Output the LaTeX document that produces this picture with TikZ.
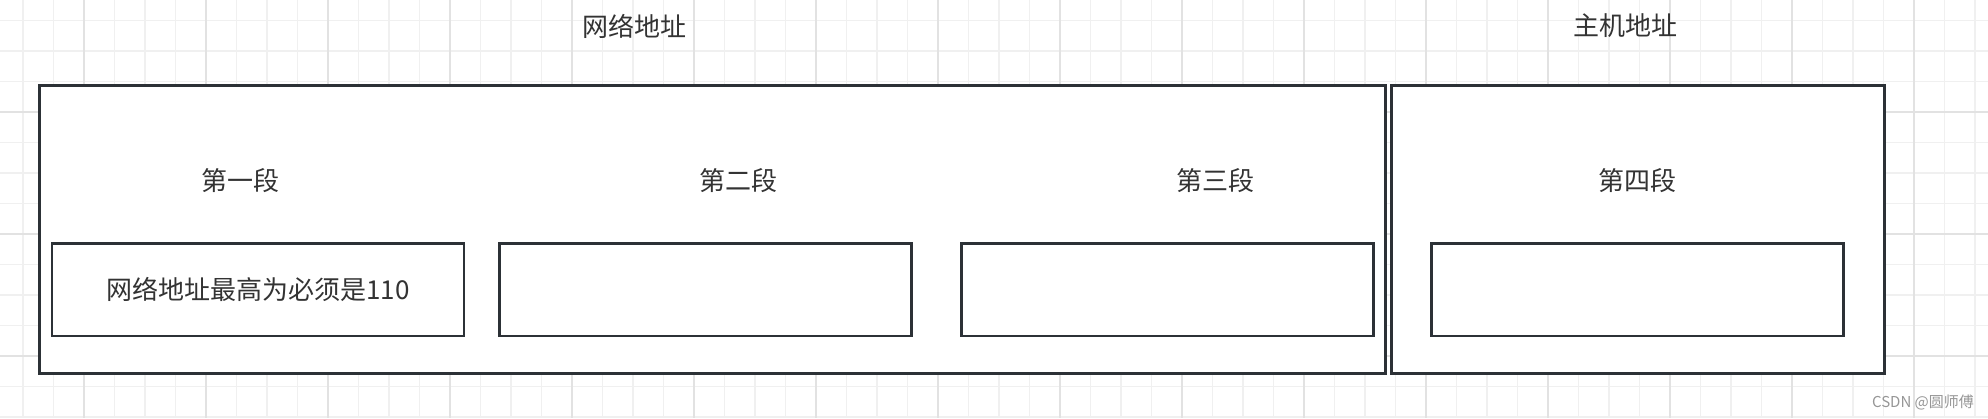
\documentclass[tikz,border=0pt]{standalone}
\usepackage{fontspec}
\setmainfont{Noto Sans CJK SC}
\usepackage{tikz}
\usetikzlibrary{positioning}

\definecolor{boxline}{RGB}{44,49,54}
\definecolor{txtgray}{RGB}{51,51,51}
\definecolor{gridminor}{RGB}{240,240,240}
\definecolor{gridmajor}{RGB}{226,226,226}
\definecolor{markgray}{RGB}{150,150,150}

\begin{document}
\begin{tikzpicture}[
    x=1pt, y=-1pt,
    outerbox/.style={rectangle, draw=boxline, fill=white, line width=3pt, minimum height=288.5pt, inner sep=0pt},
    segbox/.style={rectangle, draw=boxline, fill=white, line width=2.7pt, minimum width=412pt, minimum height=92.5pt, inner sep=0pt, text=txtgray, font=\fontsize{26}{31}\selectfont},
    lbl/.style={inner sep=0pt, text=txtgray, font=\fontsize{26}{31}\selectfont}
  ]
    \useasboundingbox (0,0) rectangle (1988,418);
    \fill[white] (0,0) rectangle (1988,418);

    % background grid
    \foreach \gx in {23,53.5,...,1988}
      \draw[gridminor, line width=1.6pt] (\gx,0) -- (\gx,418);
    \foreach \gy in {20.5,51,...,418}
      \draw[gridminor, line width=1.6pt] (0,\gy) -- (1988,\gy);
    \foreach \gx in {84,206,...,1988}
      \draw[gridmajor, line width=2pt] (\gx,0) -- (\gx,418);
    \foreach \gy in {112,234,356}
      \draw[gridmajor, line width=2pt] (0,\gy) -- (1988,\gy);

    % outer boxes
    \node[outerbox, minimum width=1346.4pt] (net)  at (712.6,229.7)  {};
    \node[outerbox, minimum width=492.6pt]  (host) at (1637.7,229.7) {};

    % segment boxes
    \node[segbox] (seg1) at (258,289.8)    {网络地址最高为必须是110};
    \node[segbox] (seg2) at (705.8,289.8)  {};
    \node[segbox] (seg3) at (1167.8,289.8) {};
    \node[segbox] (seg4) at (1637.8,289.8) {};

    % labels
    \node[lbl] (netlbl)  at (634,26)    {网络地址};
    \node[lbl] (hostlbl) at (1625.6,26) {主机地址};
    \node[lbl] (lbl1) at (240,180.5)    {第一段};
    \node[lbl] (lbl2) at (738.6,180.5)  {第二段};
    \node[lbl] (lbl3) at (1215,180.5)   {第三段};
    \node[lbl] (lbl4) at (1637.9,180.5) {第四段};

    % watermark
    \node[inner sep=0pt, text=markgray, font=\fontsize{15}{18}\selectfont] (mark) at (1923,402) {CSDN @圆师傅};
  \end{tikzpicture}
\end{document}
